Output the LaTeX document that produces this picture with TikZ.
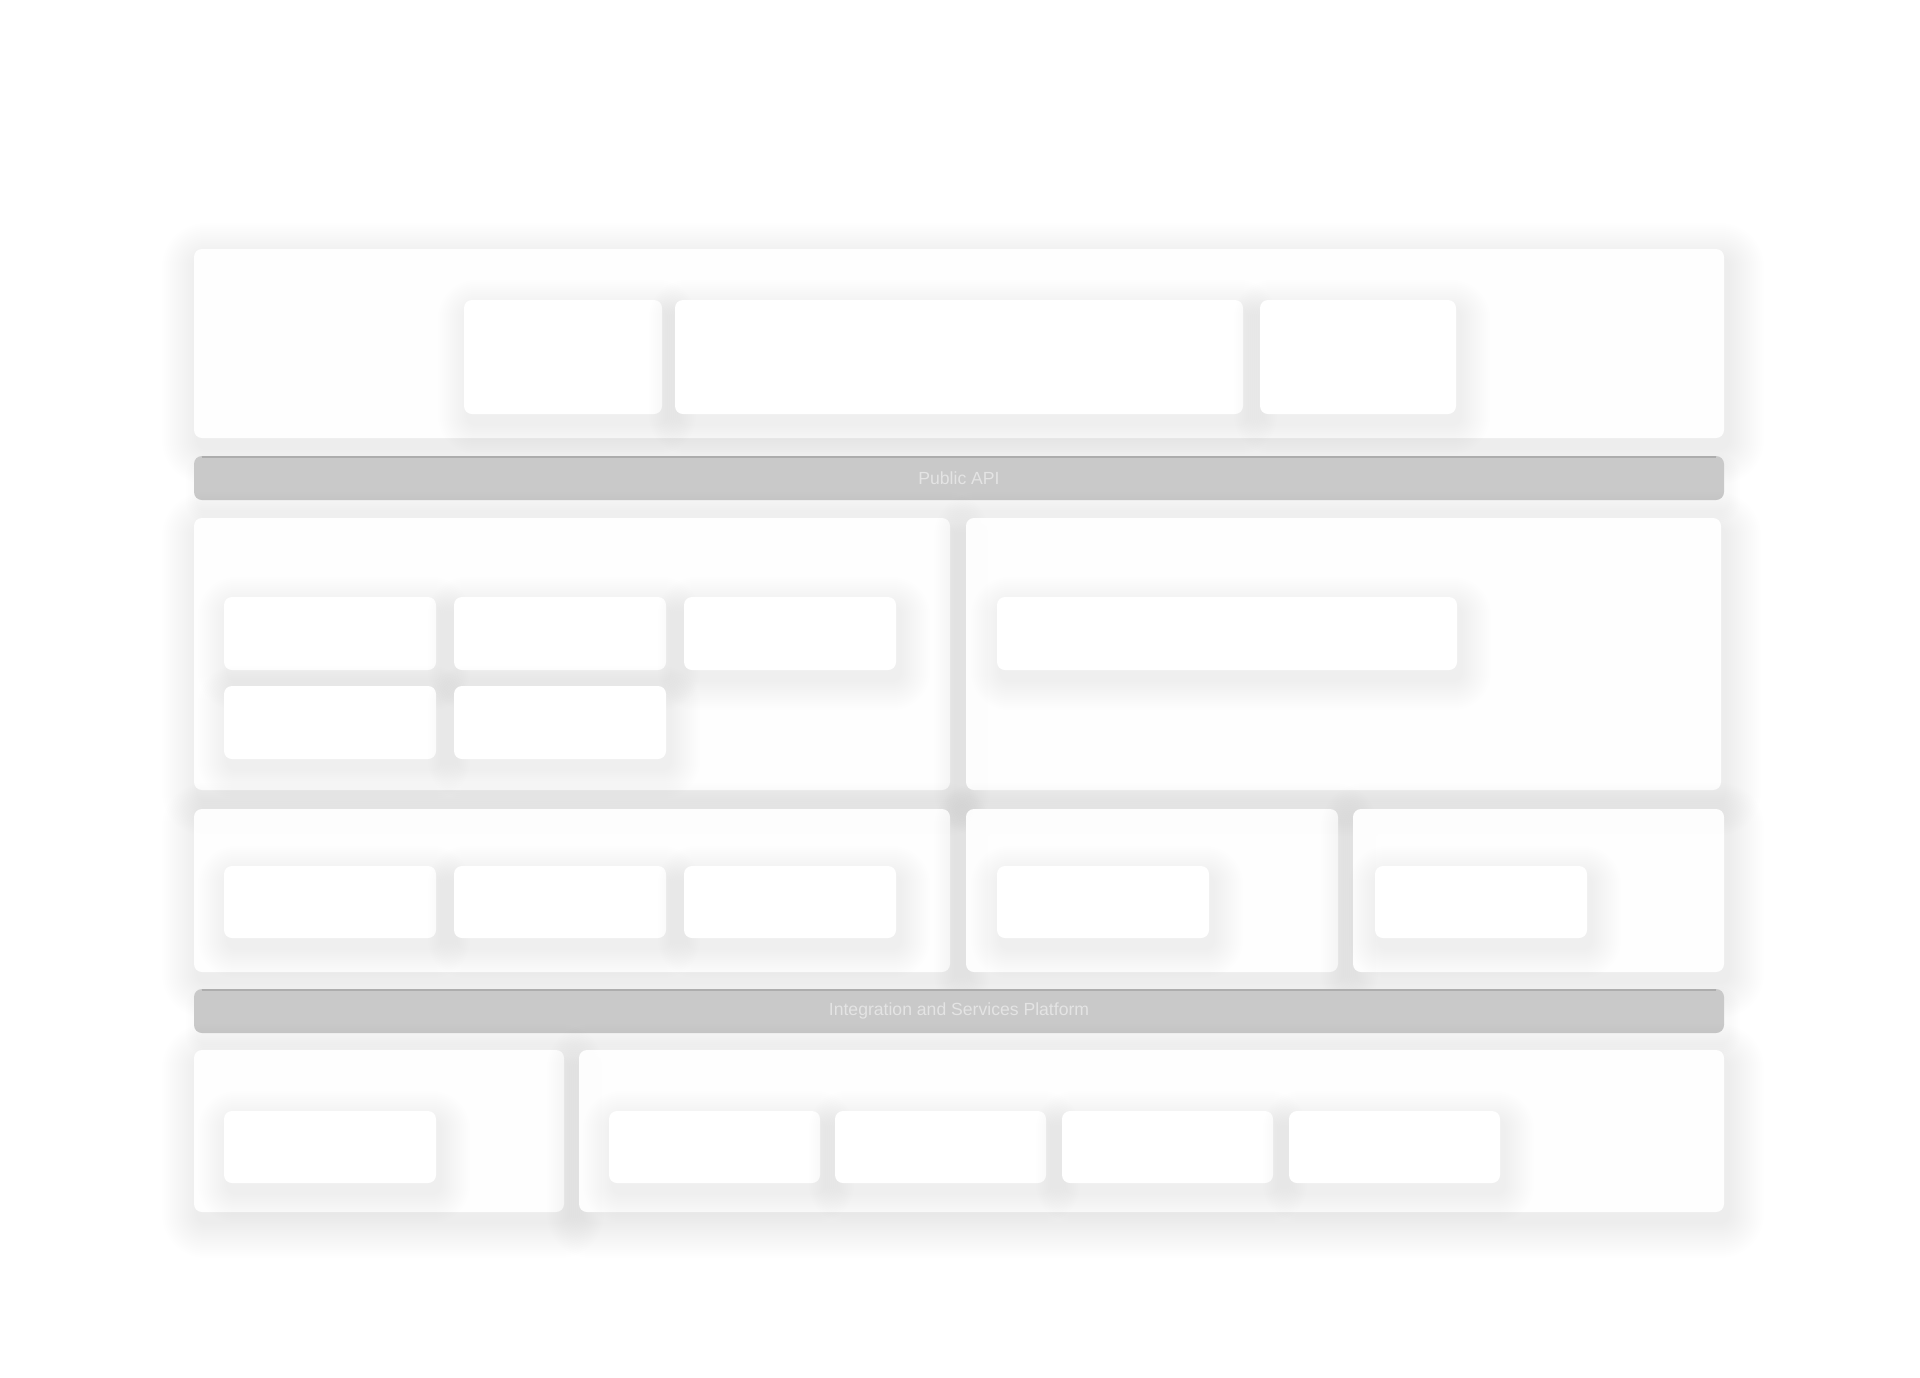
\documentclass[tikz,border=0pt]{standalone}
\usepackage{fontspec}
\setmainfont{Liberation Sans}
\usepackage{xcolor}
\usepackage{tikz}

\definecolor{busfill}{HTML}{C9C9C9}
\definecolor{busedge}{HTML}{ADADAD}
\definecolor{bustext}{HTML}{E4E4E4}

\tikzset{
  panel/.style={anchor=north west, inner sep=0pt, outer sep=0pt,
    fill=white, fill opacity=0.95, rounded corners=8pt},
  card/.style={anchor=north west, inner sep=0pt, outer sep=0pt,
    fill=white, rounded corners=8pt},
  bus/.style={anchor=north west, inner sep=0pt, outer sep=0pt,
    fill=busfill, rounded corners=8pt, minimum width=1530pt, minimum height=44pt,
    text=bustext, font=\fontsize{17.6}{20}\selectfont}
}

% soft shadow: x, y, width, height, spread, opacity of one layer
\newcommand{\softshadow}[6]{%
  \foreach \s in {2,4,...,#5}
    \fill[black, opacity=#6, rounded corners={8+\s}]
      ({#1-\s+4}, {#2-\s+10}) rectangle ({#1+#3+\s+4}, {#2+#4+\s+10});
}
% boxes: name, x, y, width, height
\newcommand{\panelbox}[5]{%
  \softshadow{#2}{#3}{#4}{#5}{36}{0.0025}
  \node[panel, minimum width=#4pt, minimum height=#5pt] (#1) at (#2,#3) {};
}
\newcommand{\cardbox}[5]{%
  \softshadow{#2}{#3}{#4}{#5}{30}{0.0035}
  \node[card, minimum width=#4pt, minimum height=#5pt] (#1) at (#2,#3) {};
}

\begin{document}
\begin{tikzpicture}[x=1pt,y=-1pt]
  % page and margins
  \fill[white] (0,0) rectangle (1920,1377);
  \useasboundingbox (0,0) rectangle (1920,1377);

  % top layer
  \panelbox{top}{194}{249}{1530}{189}
  \cardbox{topA}{464}{300}{198}{114}
  \cardbox{topB}{675}{300}{568}{114}
  \cardbox{topC}{1260}{300}{196}{114}

  % public api bus
  \softshadow{194}{456}{1530}{44}{12}{0.005}
  \node[bus] (api) at (194,456) {Public API};
  \draw[busedge, line width=2pt] ([xshift=8pt,yshift=-1pt]api.north west) -- ([xshift=-8pt,yshift=-1pt]api.north east);

  % middle layer
  \panelbox{midL}{194}{518}{756}{272}
  \cardbox{midLa}{224}{597}{212}{73}
  \cardbox{midLb}{454}{597}{212}{73}
  \cardbox{midLc}{684}{597}{212}{73}
  \cardbox{midLd}{224}{686}{212}{73}
  \cardbox{midLe}{454}{686}{212}{73}

  \panelbox{midR}{966}{518}{755}{272}
  \cardbox{midRa}{997}{597}{460}{73}

  % lower layer
  \panelbox{lowA}{194}{809}{756}{163}
  \cardbox{lowAa}{224}{866}{212}{72}
  \cardbox{lowAb}{454}{866}{212}{72}
  \cardbox{lowAc}{684}{866}{212}{72}

  \panelbox{lowB}{966}{809}{372}{163}
  \cardbox{lowBa}{997}{866}{212}{72}

  \panelbox{lowC}{1353}{809}{371}{163}
  \cardbox{lowCa}{1375}{866}{212}{72}

  % integration bus
  \softshadow{194}{989}{1530}{44}{12}{0.005}
  \node[bus] (isp) at (194,989) {Integration and Services Platform};
  \draw[busedge, line width=2pt] ([xshift=8pt,yshift=-1pt]isp.north west) -- ([xshift=-8pt,yshift=-1pt]isp.north east);

  % base layer
  \panelbox{baseA}{194}{1050}{370}{162}
  \cardbox{baseAa}{224}{1111}{212}{72}

  \panelbox{baseB}{579}{1050}{1145}{162}
  \cardbox{baseBa}{609}{1111}{211}{72}
  \cardbox{baseBb}{835}{1111}{211}{72}
  \cardbox{baseBc}{1062}{1111}{211}{72}
  \cardbox{baseBd}{1289}{1111}{211}{72}
\end{tikzpicture}
\end{document}
